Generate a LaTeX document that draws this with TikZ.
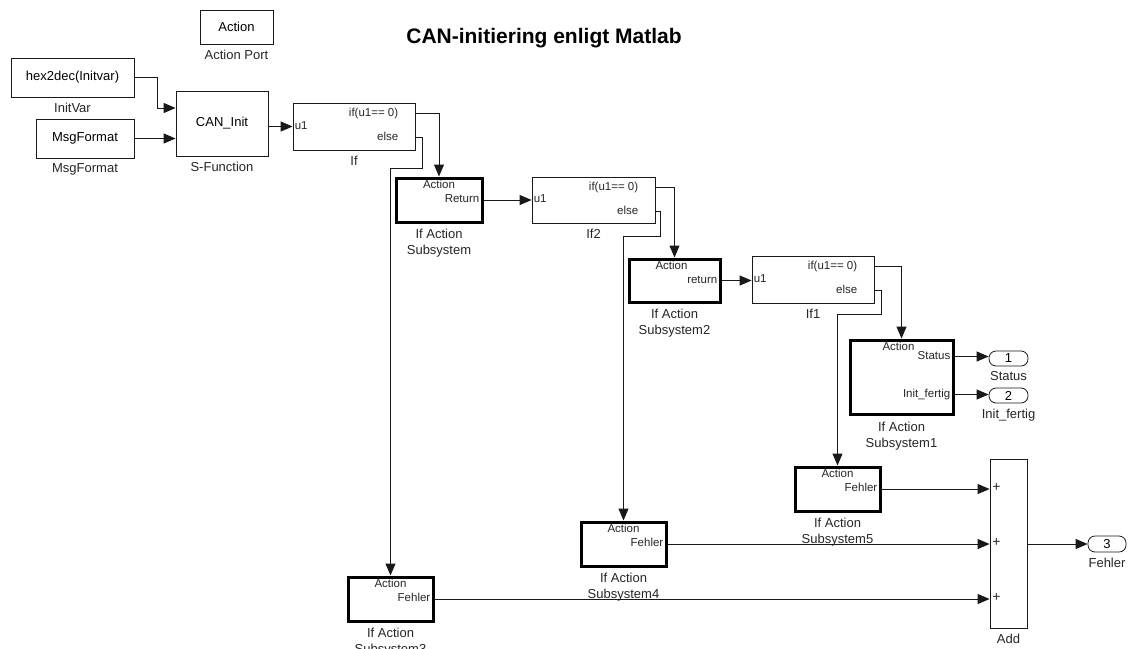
\documentclass[tikz,border=0pt]{standalone}
\usepackage{fontspec}
\setmainfont{Liberation Sans}
\usetikzlibrary{arrows.meta,calc}
\begin{document}
\begin{tikzpicture}[x=1pt,y=-1pt,
  box/.style={draw=black!90, line width=0.8pt, inner sep=0pt, font=\fontsize{13}{15}\selectfont},
  sbox/.style={draw=black, line width=3pt, inner sep=0pt},
  lbl/.style={font=\fontsize{13}{16}\selectfont, anchor=north, align=center, inner sep=0pt, text=black!85},
  plbl/.style={font=\fontsize{11.5}{13}\selectfont, inner sep=0pt, anchor=mid, text=black!85},
  wire/.style={draw=black!90, line width=1pt},
  arr/.style={wire, -{Triangle[length=12pt,width=10pt]}},
  outp/.style={draw=black!90, line width=0.8pt, rounded corners=7pt, minimum width=39pt, minimum height=15pt, inner sep=0pt, font=\fontsize{13}{15}\selectfont}
]
\useasboundingbox[fill=white] (0,0) rectangle (1131,648);

% title
\node[font=\fontsize{21}{25}\selectfont\bfseries, anchor=base, inner sep=0pt] (title) at (544,43) {CAN-initiering enligt Matlab};

% source blocks
\node[box, minimum width=73pt, minimum height=34pt] (actport) at (236.5,27) {Action};
\node[lbl] (actportl) at ($(actport.south)+(0,5)$) {Action Port};
\node[box, minimum width=123pt, minimum height=39pt] (hex) at (72.5,77.5) {hex2dec(Initvar)};
\node[lbl] (hexl) at ($(hex.south)+(0,5)$) {InitVar};
\node[box, minimum width=98pt, minimum height=39pt] (msg) at (85,138.5) {MsgFormat};
\node[lbl] (msgl) at ($(msg.south)+(0,5)$) {MsgFormat};
\node[box, minimum width=92pt, minimum height=65pt] (sfun) at (222,123.5) {CAN\_Init};
\node[lbl] (sfunl) at ($(sfun.south)+(0,5)$) {S-Function};
\coordinate (sfin1) at (sfun.west |- 0,108);
\coordinate (sfin2) at (sfun.west |- msg.east);

% If blocks
\node[box, minimum width=122pt, minimum height=47pt] (if0) at (354,126.5) {};
\node[lbl] (if0l) at ($(if0.south)+(0,5)$) {If};
\node[box, minimum width=123pt, minimum height=46pt] (if2) at (593.5,200) {};
\node[lbl] (if2l) at ($(if2.south)+(0,5)$) {If2};
\node[box, minimum width=122pt, minimum height=47pt] (if1) at (813,279.5) {};
\node[lbl] (if1l) at ($(if1.south)+(0,5)$) {If1};
\foreach \n in {if0,if2,if1}{
  \coordinate (\n o1) at ($(\n.north east)+(0,11)$);
  \coordinate (\n o2) at ($(\n.north east)+(0,35)$);
  \node[plbl, anchor=mid west] (\n u) at ($(\n.west)+(2,0)$) {u1};
  \node[plbl, anchor=mid east] (\n a) at ($(\n o1)+(-17,0)$) {if(u1== 0)};
  \node[plbl, anchor=mid east] (\n b) at ($(\n o2)+(-17,0)$) {else};
}

% action subsystems
\node[sbox, minimum width=86pt, minimum height=44pt] (sub) at (439,200) {};
\node[lbl] (subl) at ($(sub.south)+(0,5)$) {If Action\\Subsystem};
\node[plbl] (suba) at ($(sub.north)+(0,9)$) {Action};
\node[plbl, anchor=mid east] (subp) at ($(sub.east)+(-4,0)$) {Return};

\node[sbox, minimum width=91pt, minimum height=43pt] (sub2) at (674.5,280.5) {};
\node[lbl] (sub2l) at ($(sub2.south)+(0,5)$) {If Action\\Subsystem2};
\node[plbl] (sub2a) at ($(sub2.north)+(-3,9)$) {Action};
\node[plbl, anchor=mid east] (sub2p) at ($(sub2.east)+(-4,0)$) {return};

\node[sbox, minimum width=103pt, minimum height=74pt] (sub1) at (901.5,377) {};
\node[lbl] (sub1l) at ($(sub1.south)+(0,6)$) {If Action\\Subsystem1};
\node[plbl] (sub1a) at ($(sub1.north)+(-3,9)$) {Action};
\coordinate (sub1o1) at ($(sub1.north east)+(0,18)$);
\coordinate (sub1o2) at ($(sub1.north east)+(0,56)$);
\node[plbl, anchor=mid east] (sub1p) at ($(sub1o1)+(-4,0)$) {Status};
\node[plbl, anchor=mid east] (sub1q) at ($(sub1o2)+(-4,0)$) {Init\_fertig};

\node[sbox, minimum width=85pt, minimum height=44pt] (sub5) at (837.5,489) {};
\node[lbl] (sub5l) at ($(sub5.south)+(0,5)$) {If Action\\Subsystem5};
\node[plbl] (sub5a) at ($(sub5.north)+(0,9)$) {Action};
\node[plbl, anchor=mid east] (sub5p) at ($(sub5.east)+(-4,0)$) {Fehler};

\node[sbox, minimum width=85pt, minimum height=44pt] (sub4) at (623.5,544) {};
\node[lbl] (sub4l) at ($(sub4.south)+(0,5)$) {If Action\\Subsystem4};
\node[plbl] (sub4a) at ($(sub4.north)+(0,9)$) {Action};
\node[plbl, anchor=mid east] (sub4p) at ($(sub4.east)+(-4,0)$) {Fehler};

\node[sbox, minimum width=85pt, minimum height=44pt] (sub3) at (390.5,599) {};
\node[lbl] (sub3l) at ($(sub3.south)+(0,5)$) {If Action\\Subsystem3};
\node[plbl] (sub3a) at ($(sub3.north)+(0,9)$) {Action};
\node[plbl, anchor=mid east] (sub3p) at ($(sub3.east)+(-4,0)$) {Fehler};

% outports
\node[outp] (out1) at (1008.5,358.5) {1};
\node[lbl] (out1l) at ($(out1.south)+(0,5)$) {Status};
\node[outp] (out2) at (1008.5,395.5) {2};
\node[lbl] (out2l) at ($(out2.south)+(0,5)$) {Init\_fertig};
\node[outp, minimum width=38pt, minimum height=16pt] (out3) at (1107,544) {3};
\node[lbl] (out3l) at ($(out3.south)+(0,5)$) {Fehler};

% add
\node[box, minimum width=37pt, minimum height=169pt] (add) at (1008.5,543.5) {};
\node[lbl] (addl) at ($(add.south)+(0,5)$) {Add};
\foreach \s in {sub5,sub4,sub3}{
  \node[plbl, font=\fontsize{14}{15}\selectfont, anchor=mid west] (plus\s) at ($(add.west |- \s.east)+(2.5,0)$) {+};
}

% wires
\draw[arr] (hex.east) -- ++(23,0) |- (sfin1);
\draw[arr] (msg.east) -- (sfin2);
\draw[arr] (sfun.east |- if0.west) -- (if0.west);
\draw[arr] (if0o1) -| (sub.north);
\draw[arr] (if0o2) -- ++(7,0) -- ++(0,31) -| (sub3.north);
\draw[arr] (sub.east) -- (if2.west);
\draw[arr] (if2o1) -| (sub2.north);
\draw[arr] (if2o2) -- ++(5,0) -- ++(0,25) -| (sub4.north);
\draw[arr] (sub2.east) -- (if1.west |- sub2.east);
\draw[arr] (if1o1) -| (sub1.north);
\draw[arr] (if1o2) -- ++(7,0) -- ++(0,24) -| (sub5.north);
\draw[arr] (sub1o1) -- (out1.west |- sub1o1);
\draw[arr] (sub1o2) -- (out2.west |- sub1o2);
\draw[arr] (sub5.east) -- (add.west |- sub5.east);
\draw[arr] (sub4.east) -- (add.west |- sub4.east);
\draw[arr] (sub3.east) -- (add.west |- sub3.east);
\draw[arr] (add.east |- out3.west) -- (out3.west);
\end{tikzpicture}
\end{document}
